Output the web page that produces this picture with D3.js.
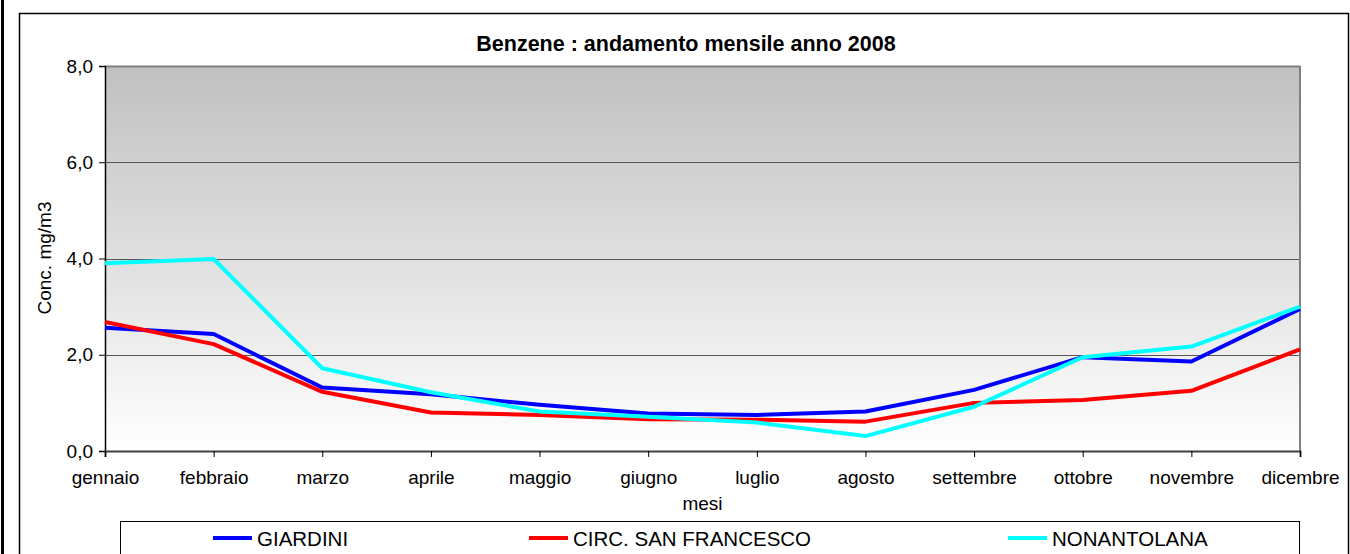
<!DOCTYPE html>
<html>
<head>
<meta charset="utf-8">
<script src="https://cdn.jsdelivr.net/npm/d3@7"></script>
<style>
  body { margin: 0; background: #fff; }
  svg { display: block; font-family: "Liberation Sans", Arial, sans-serif; }
</style>
</head>
<body>
<svg id="chart" width="1350" height="554"></svg>
<script>
const months = ["gennaio", "febbraio", "marzo", "aprile", "maggio", "giugno",
  "luglio", "agosto", "settembre", "ottobre", "novembre", "dicembre"]
const giardini = [2.56, 2.43, 1.32, 1.18, 0.96, 0.78, 0.75, 0.82, 1.27, 1.95, 1.86, 2.95]
const sanFrancesco = [2.68, 2.22, 1.23, 0.80, 0.75, 0.66, 0.65, 0.61, 1.00, 1.06, 1.25, 2.11]
const nonantolana = [3.90, 3.99, 1.72, 1.22, 0.82, 0.71, 0.59, 0.31, 0.92, 1.95, 2.17, 3.00]
const yTicks = [0, 2, 4, 6, 8]

const series = [
  { name: "GIARDINI", values: giardini, color: "#0000ff" },
  { name: "CIRC. SAN FRANCESCO", values: sanFrancesco, color: "#ff0000" },
  { name: "NONANTOLANA", values: nonantolana, color: "#00ffff" },
]

const margin = { top: 66, right: 50, bottom: 103, left: 105 }
const width = 1350 - margin.left - margin.right
const height = 554 - margin.top - margin.bottom

const svg = d3.select("#chart")

// frames
svg.append("line")
  .attr("x1", 2.5).attr("x2", 2.5).attr("y1", 0).attr("y2", 554)
  .attr("stroke", "#000").attr("stroke-width", 3)
svg.append("rect")
  .attr("x", 19.5).attr("y", 13.5).attr("width", 1329).attr("height", 560)
  .attr("fill", "#fff").attr("stroke", "#000").attr("stroke-width", 1.5)

const defs = svg.append("defs")
const grad = defs.append("linearGradient")
  .attr("id", "bg").attr("x1", 0).attr("x2", 0).attr("y1", 0).attr("y2", 1)
grad.append("stop").attr("offset", "0%").attr("stop-color", "#c0c0c0")
grad.append("stop").attr("offset", "100%").attr("stop-color", "#ffffff")

const x = d3.scalePoint().domain(months).range([0, width]).padding(0)
const y = d3.scaleLinear().domain([0, 8]).range([height, 0])

const g = svg.append("g")
  .attr("transform", "translate(" + margin.left + "," + margin.top + ")")

g.append("rect")
  .attr("width", width).attr("height", height)
  .attr("fill", "url(#bg)")

// gridlines
g.append("g")
  .selectAll("line")
  .data(yTicks.filter(d => d > 0))
  .join("line")
  .attr("x1", 0).attr("x2", width)
  .attr("y1", d => Math.round(y(d)) + 0.5).attr("y2", d => Math.round(y(d)) + 0.5)
  .attr("stroke", d => d === 8 ? "#808080" : "#555")
  .attr("stroke-width", d => d === 8 ? 2 : 1)

// right border
g.append("line")
  .attr("x1", width).attr("x2", width).attr("y1", 0).attr("y2", height)
  .attr("stroke", "#808080").attr("stroke-width", 2)

const fmt = d => d3.format(".1f")(d).replace(".", ",")

const yAxis = g.append("g")
  .call(d3.axisLeft(y).tickValues(yTicks).tickFormat(fmt).tickSize(6).tickPadding(6))
yAxis.select(".domain").attr("stroke", "#000").attr("stroke-width", 1.5)
yAxis.selectAll(".tick line").attr("stroke", "#000")
yAxis.selectAll("text")
  .attr("fill", "#000")
  .style("font-size", "19px")
  .style("font-family", "Liberation Sans, Arial, sans-serif")

const xAxis = g.append("g")
  .attr("transform", "translate(0," + height + ")")
  .call(d3.axisBottom(x).tickSize(6).tickPadding(14))
xAxis.select(".domain").attr("stroke", "#404040").attr("stroke-width", 2)
xAxis.selectAll(".tick line").attr("stroke", "#000")
xAxis.selectAll("text")
  .attr("fill", "#000")
  .style("font-size", "19px")
  .style("font-family", "Liberation Sans, Arial, sans-serif")

// series
const line = d3.line()
  .x((d, i) => x(months[i]))
  .y(d => y(d))

g.selectAll(".series")
  .data(series)
  .join("path")
  .attr("class", "series")
  .attr("fill", "none")
  .attr("stroke", d => d.color)
  .attr("stroke-width", 4)
  .attr("stroke-linejoin", "round")
  .attr("d", d => line(d.values))

// titles
svg.append("text")
  .attr("x", 686).attr("y", 51)
  .attr("text-anchor", "middle")
  .attr("font-weight", "bold")
  .attr("font-size", 21.5)
  .text("Benzene : andamento mensile anno 2008")

svg.append("text")
  .attr("x", margin.left + width / 2).attr("y", 510)
  .attr("text-anchor", "middle")
  .attr("font-size", 19)
  .text("mesi")

svg.append("text")
  .attr("transform", "translate(51,258) rotate(-90)")
  .attr("text-anchor", "middle")
  .attr("font-size", 19)
  .text("Conc. mg/m3")

// legend
svg.append("rect")
  .attr("x", 120.5).attr("y", 521.5).attr("width", 1179).attr("height", 60)
  .attr("fill", "#fff").attr("stroke", "#000").attr("stroke-width", 1)

const legendX = [213, 529, 1008]
const leg = svg.selectAll(".leg")
  .data(series)
  .join("g")
  .attr("class", "leg")
  .attr("transform", (d, i) => "translate(" + legendX[i] + ",538)")
leg.append("line")
  .attr("x1", 0).attr("x2", 39)
  .attr("stroke", d => d.color).attr("stroke-width", 4)
leg.append("text")
  .attr("x", 44).attr("y", 7.5)
  .attr("font-size", 20.5)
  .text(d => d.name)
</script>
</body>
</html>
